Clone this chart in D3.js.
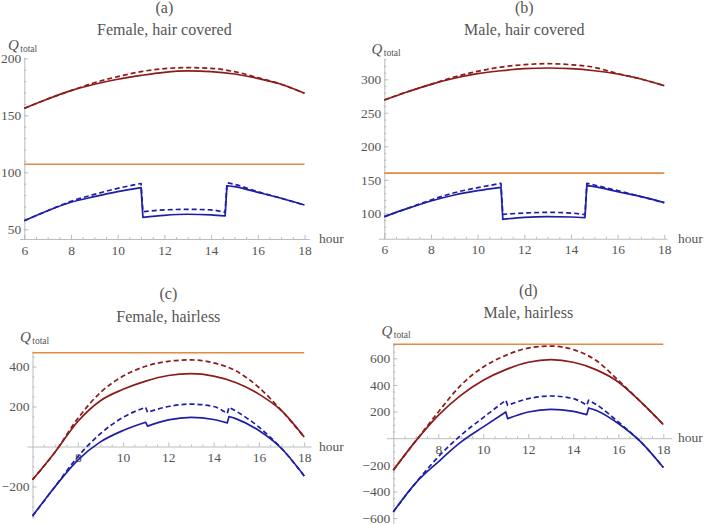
<!DOCTYPE html>
<html><head><meta charset="utf-8">
<script src="https://cdn.jsdelivr.net/npm/d3@7"></script>
<style>
body{margin:0;background:#fff}
svg{display:block;background:#fff}
svg text{font-family:"Liberation Serif","DejaVu Serif","Times New Roman",Times,serif !important;fill:#555}
</style>
</head><body>
<svg id="chart" width="705" height="524"></svg>
<script>
// ---------- data ----------
const hours = [6,7,8,9,10,11,12,13,14,15,16,17,18];
const blueHours = [6,7,8,9,10,11, 11.08,12,13,14,14.6, 14.68,15,16,17,18];

// (a) Female, hair covered
const redSolidA = [156.1,164.3,171.6,177.2,181.6,185,187.7,188.9,188.3,186.2,182.4,177.2,169.3];
const redDashA  = [156.1,164.3,171.6,178.6,183.9,188.3,190.9,191.8,191.2,188.3,183,177.2,169.3];
const blueSolidA = [57.5,66.3,73.7,78.6,83,86.5, 60.5,62.3,63.2,62.6,61.7, 88.2,87.4,82.4,77.2,71.3];
const blueDashA  = [57.5,66.3,74.6,80.6,85.9,90.2, 65.5,67,67.5,67,64.9, 90.8,89.4,83,77.2,71.3];
const orangeA = 107;

// (b) Male, hair covered
const redSolidB = [269.1,281.5,292.5,301.5,308.4,312.8,315.8,316.9,315.8,312.8,307.9,300.4,290.5];
const redDashB  = [269.1,281.5,292.5,303.5,311.9,318.3,321.8,323.3,321.8,317.8,308.5,300.4,290.5];
const blueSolidB = [95,107.4,118.4,127.3,133.8,138.8, 91,94,95,94.5,93.5, 141.2,139.7,132.2,124.8,116];
const blueDashB  = [95,107.4,119.9,130.7,138.2,144.7, 98.5,100.4,101.4,100.4,98, 144.7,142.2,133.8,124.8,116];
const orangeB = 160;

// (c) Female, hairless
const redSolidC = [-166,-27,125,229,286,327,355,364,352,319,262,179,47];
const redDashC  = [-166,-27,140,270,352,401,426,433,418,377,295,179,47];
const blueSolidC = [-348,-200,-68,23,80,121, 102,133,146,135,118, 150,138,80,-10,-147];
const blueDashC  = [-348,-200,-51,64,146,196, 171,200,212,200,165, 196,176,97,-10,-147];
const orangeC = 469;

// (d) Male, hairless
const redSolidD = [-240,-20,172,322,435,515,570,590,570,515,422,272,103];
const redDashD  = [-240,-20,197,397,535,622,677,692,665,585,435,272,103];
const blueSolidD = [-553,-335,-177,-30,85,197, 147,197,217,202,177, 227,210,110,-28,-220];
const blueDashD  = [-553,-335,-140,22,155,285, 247,297,317,297,247, 285,255,122,-28,-220];
const orangeD = 705;

// tick labels
const xTicksTop = [6,8,10,12,14,16,18];
const xTicksBottom = [8,10,12,14,16,18];
const yTicksA = [50,100,150,200];
const yTicksB = [100,150,200,250,300];
const yTicksC = [-200,200,400];
const yTicksD = [-600,-400,-200,200,400,600];

const labels = ["(a)","(b)","(c)","(d)"];
const titles = ["Female, hair covered","Male, hair covered","Female, hairless","Male, hairless"];

// ---------- layout (positions only) ----------
const panels = [
  {red:redSolidA, redD:redDashA, blue:blueSolidA, blueD:blueDashA, orange:orangeA,
   yTicks:yTicksA, xTicks:xTicksTop, yMinorStep:10,
   xMap:[[6,18],[24.3,304.5]], yMap:[[50,200],[229.3,58.3]],
   xExt:[5.8,18.2], yExt:[41.5,201], xAxisAt:41.5,
   labelY:12.5, titleY:35, qX:8, qY:50, hourX:319},
  {red:redSolidB, redD:redDashB, blue:blueSolidB, blueD:blueDashB, orange:orangeB,
   yTicks:yTicksB, xTicks:xTicksTop, yMinorStep:10,
   xMap:[[6,18],[384.3,664.3]], yMap:[[100,300],[213.3,79.3]],
   xExt:[5.75,18.12], yExt:[62,331], xAxisAt:62,
   labelY:12.5, titleY:35, qX:371.5, qY:54, hourX:678},
  {red:redSolidC, redD:redDashC, blue:blueSolidC, blueD:blueDashC, orange:orangeC,
   yTicks:yTicksC, xTicks:xTicksBottom, yMinorStep:50,
   xMap:[[6,18],[32.5,304.2]], yMap:[[0,400],[446.5,366.5]],
   xExt:[5.75,18.3], yExt:[-357,477], xAxisAt:0,
   labelY:299, titleY:321.5, qX:20, qY:342, hourX:319},
  {red:redSolidD, redD:redDashD, blue:blueSolidD, blueD:blueDashD, orange:orangeD,
   yTicks:yTicksD, xTicks:xTicksBottom, yMinorStep:50,
   xMap:[[6,18],[393.3,663.3]], yMap:[[0,600],[438.2,358.3]],
   xExt:[5.7,18.37], yExt:[-690,714], xAxisAt:0,
   labelY:295.5, titleY:318, qX:381.5, qY:336, hourX:678}
];

const FONT = '"Liberation Serif","DejaVu Serif","Times New Roman",Times,serif';
const COLORS = {red:"#8c1b1b", blue:"#1f1fa6", orange:"#e08c45", axis:"#ababab"};
const svg = d3.select("#chart");

function seriesPath(xs, ys, sx, sy){
  const pts = xs.map((h,i)=>[sx(h), sy(ys[i])]);
  const segs = [[pts[0]]];
  for(let i=1;i<pts.length;i++){
    if(xs[i]-xs[i-1] < 0.15) segs.push([pts[i]]);
    else segs[segs.length-1].push(pts[i]);
  }
  const line = d3.line().curve(d3.curveMonotoneX);
  let d = "";
  segs.forEach((s,i)=>{
    let p = s.length>1 ? line(s) : "M"+s[0][0]+","+s[0][1];
    if(i>0) p = "L"+p.slice(1);
    d += p;
  });
  return d;
}

panels.forEach((p,pi)=>{
  const x = d3.scaleLinear().domain(p.xMap[0]).range(p.xMap[1]);
  const y = d3.scaleLinear().domain(p.yMap[0]).range(p.yMap[1]);
  const g = svg.append("g");

  const xa = x.copy().domain(p.xExt).range(p.xExt.map(x));
  const ya = y.copy().domain(p.yExt).range(p.yExt.map(y));
  const axY = y(p.xAxisAt), axX = x(6);

  const xMinor = d3.range(6, 18.01, 0.5).filter(v=>!p.xTicks.includes(v) && v!==6);
  const yMinor = d3.range(Math.ceil(p.yExt[0]/p.yMinorStep)*p.yMinorStep, p.yExt[1], p.yMinorStep)
                   .filter(v=>!p.yTicks.includes(v) && v!==p.xAxisAt);

  g.append("g").attr("transform",`translate(0,${axY})`)
    .call(d3.axisBottom(xa).tickValues(p.xTicks).tickSizeInner(-4).tickSizeOuter(0).tickPadding(6).tickFormat(d3.format("d")));
  g.append("g").attr("transform",`translate(0,${axY})`)
    .call(d3.axisBottom(xa).tickValues(xMinor).tickSizeInner(-2).tickSizeOuter(0).tickFormat(""))
    .call(s=>s.select(".domain").remove());
  g.append("g").attr("transform",`translate(${axX},0)`)
    .call(d3.axisLeft(ya).tickValues(p.yTicks).tickSizeInner(-4).tickSizeOuter(0).tickPadding(3).tickFormat(d=>d3.format("d")(d).replace("-","\u2212")));
  g.append("g").attr("transform",`translate(${axX},0)`)
    .call(d3.axisLeft(ya).tickValues(yMinor).tickSizeInner(-2).tickSizeOuter(0).tickFormat(""))
    .call(s=>s.select(".domain").remove());

  g.selectAll(".domain, .tick line").attr("stroke", COLORS.axis).attr("stroke-width",0.8);
  g.selectAll("g").attr("font-family",FONT).attr("font-size",null);
  g.selectAll(".tick text").attr("fill","#555").style("font-size","13.5px").style("font-family",FONT);

  g.append("line").attr("x1",x(6)).attr("x2",x(18))
    .attr("y1",y(p.orange)).attr("y2",y(p.orange))
    .attr("stroke",COLORS.orange).attr("stroke-width",1.6);

  const curves = [
    {xs:hours, ys:p.red, c:COLORS.red, dash:null},
    {xs:hours, ys:p.redD, c:COLORS.red, dash:"5,3"},
    {xs:blueHours, ys:p.blue, c:COLORS.blue, dash:null},
    {xs:blueHours, ys:p.blueD, c:COLORS.blue, dash:"5,3"}
  ];
  curves.forEach(cv=>{
    g.append("path").attr("d", seriesPath(cv.xs, cv.ys, x, y))
      .attr("fill","none").attr("stroke",cv.c).attr("stroke-width",1.7)
      .attr("stroke-dasharray",cv.dash).attr("stroke-linejoin","round");
  });

  const cx = (x(6)+x(18))/2;
  g.append("text").attr("x",cx).attr("y",p.labelY).attr("text-anchor","middle")
    .style("font-family",FONT).style("font-size","16px").text(labels[pi]);
  g.append("text").attr("x",cx).attr("y",p.titleY).attr("text-anchor","middle")
    .style("font-family",FONT).style("font-size","16px").text(titles[pi]);

  const q = g.append("text").attr("x",p.qX).attr("y",p.qY).style("font-family",FONT);
  q.append("tspan").style("font-style","italic").style("font-size","15px").text("Q");
  q.append("tspan").attr("dx",1.5).attr("dy",1.5).style("font-size","9.5px").text("total");

  g.append("text").attr("x",p.hourX).attr("y",axY+4).style("font-family",FONT)
    .style("font-size","13.5px").text("hour");
});
</script>
</body></html>
